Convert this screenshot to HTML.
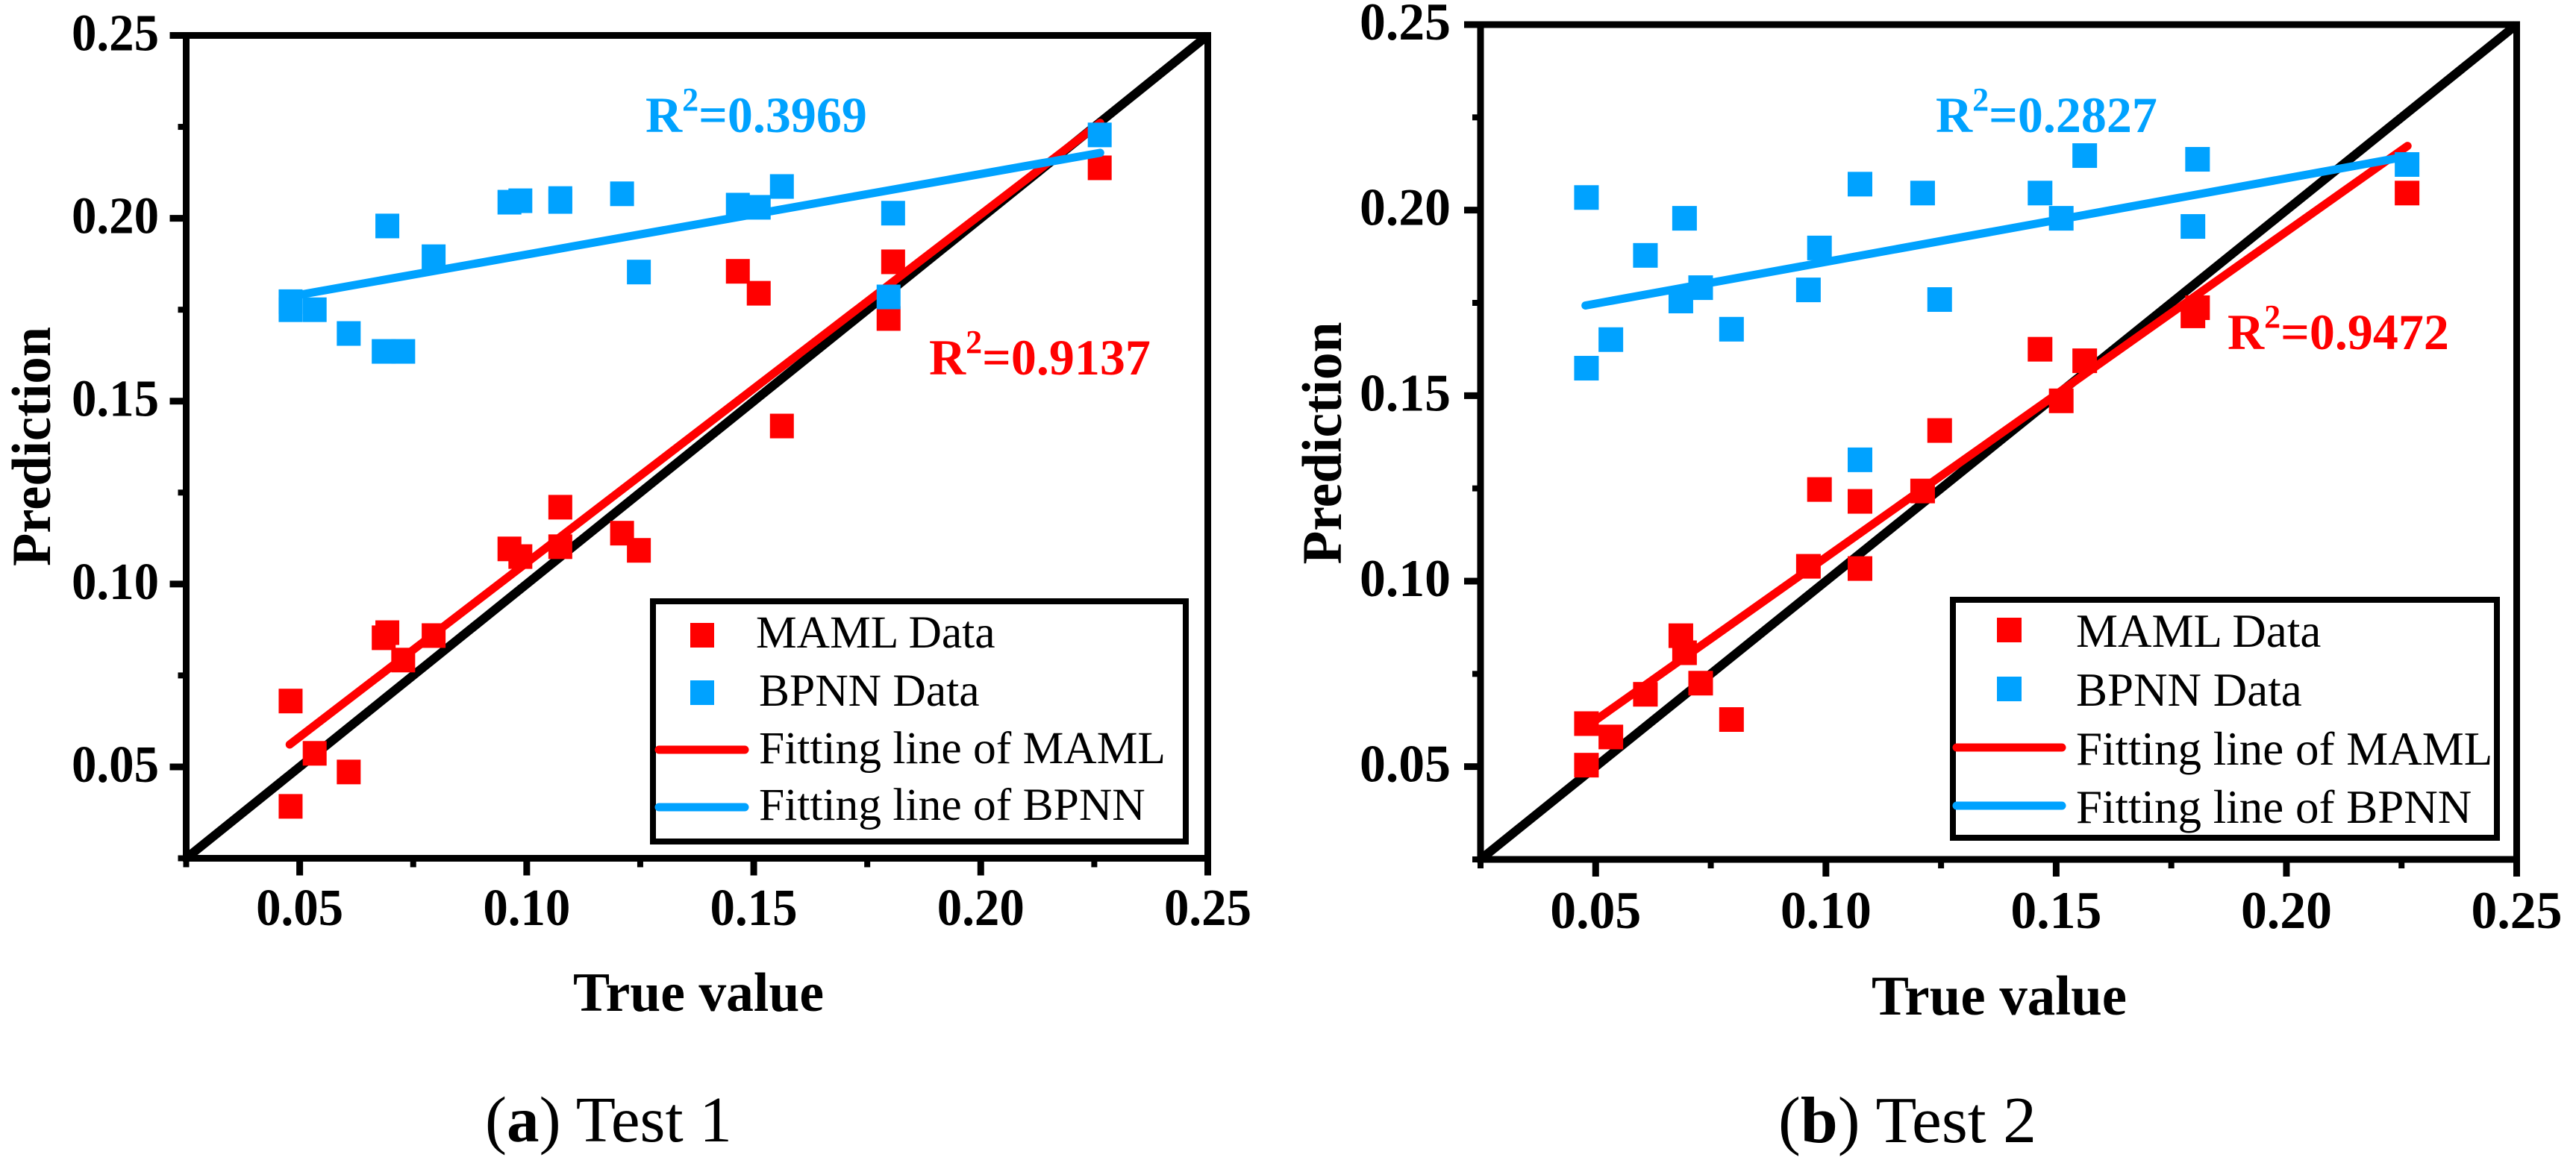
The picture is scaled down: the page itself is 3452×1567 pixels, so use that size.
<!DOCTYPE html>
<html lang="en">
<head>
<meta charset="utf-8">
<title>Prediction vs true value: Test 1 and Test 2</title>
<style>
  html, body { margin: 0; padding: 0; background: #fff; }
  svg { display: block; }
  text { font-family: "Liberation Serif", serif; fill: #000; }
  .tick { font-weight: bold; }
  .title { font-size: 74px; font-weight: bold; }
  .r2 { font-size: 68px; font-weight: bold; }
  .cap { font-size: 87px; }
</style>
</head>
<body>
<svg id="fig" width="3452" height="1567" viewBox="0 0 3452 1567" xmlns="http://www.w3.org/2000/svg">
  <rect width="3452" height="1567" fill="#fff"/>

  <g id="panelA">
    <g id="marksA"></g>
    <g id="axesA"></g>
    <rect x="249.5" y="47.5" width="1369" height="1103" fill="none" stroke="#000" stroke-width="9"/>
    <text class="title" x="768" y="1355" textLength="336" lengthAdjust="spacingAndGlyphs">True value</text>
    <text class="title" transform="translate(67,598.5) rotate(-90)" text-anchor="middle" textLength="321" lengthAdjust="spacingAndGlyphs">Prediction</text>
    <text class="r2" x="865" y="177" style="fill:#00A2FF">R<tspan font-size="44" dy="-29">2</tspan><tspan dy="29">=0.3969</tspan></text>
    <text class="r2" x="1245" y="502" style="fill:#FF0000">R<tspan font-size="44" dy="-29">2</tspan><tspan dy="29">=0.9137</tspan></text>
    <g>
      <rect x="875" y="806" width="714" height="322" fill="#fff" stroke="#000" stroke-width="8"/>
      <rect x="925" y="835" width="32" height="33" fill="#FF0000"/>
      <rect x="925" y="912" width="32" height="33" fill="#00A2FF"/>
      <line x1="883" x2="998" y1="1005" y2="1005" stroke="#FF0000" stroke-width="11" stroke-linecap="round"/>
      <line x1="883" x2="998" y1="1082" y2="1082" stroke="#00A2FF" stroke-width="11" stroke-linecap="round"/>
      <text x="1013" y="868" font-size="61.5">MAML Data</text>
      <text x="1017" y="946" font-size="61.5">BPNN Data</text>
      <text x="1017" y="1023" font-size="61.5">Fitting line of MAML</text>
      <text x="1017" y="1099" font-size="61.5">Fitting line of BPNN</text>
    </g>
    <text class="cap" x="650" y="1530" textLength="331" lengthAdjust="spacingAndGlyphs">(<tspan font-weight="bold">a</tspan>) Test 1</text>
  </g>

  <g id="panelB">
    <g id="marksB"></g>
    <g id="axesB"></g>
    <rect x="1984" y="33" width="1388.5" height="1119" fill="none" stroke="#000" stroke-width="9"/>
    <text class="title" x="2508" y="1360" textLength="342" lengthAdjust="spacingAndGlyphs" style="font-size:75px">True value</text>
    <text class="title" transform="translate(1797,594) rotate(-90)" text-anchor="middle" textLength="325" lengthAdjust="spacingAndGlyphs" style="font-size:75px">Prediction</text>
    <text class="r2" x="2594" y="177" style="fill:#00A2FF">R<tspan font-size="44" dy="-29">2</tspan><tspan dy="29">=0.2827</tspan></text>
    <text class="r2" x="2985" y="468" style="fill:#FF0000">R<tspan font-size="44" dy="-29">2</tspan><tspan dy="29">=0.9472</tspan></text>
    <g>
      <rect x="2617" y="804" width="729" height="319" fill="#fff" stroke="#000" stroke-width="8"/>
      <rect x="2676" y="828" width="33" height="33" fill="#FF0000"/>
      <rect x="2676" y="907" width="33" height="33" fill="#00A2FF"/>
      <line x1="2622" x2="2763" y1="1002" y2="1002" stroke="#FF0000" stroke-width="11" stroke-linecap="round"/>
      <line x1="2622" x2="2763" y1="1080" y2="1080" stroke="#00A2FF" stroke-width="11" stroke-linecap="round"/>
      <text x="2782" y="867" font-size="63">MAML Data</text>
      <text x="2782" y="946" font-size="63">BPNN Data</text>
      <text x="2782" y="1025" font-size="63">Fitting line of MAML</text>
      <text x="2782" y="1103" font-size="63">Fitting line of BPNN</text>
    </g>
    <text class="cap" x="2383" y="1531" textLength="346" lengthAdjust="spacingAndGlyphs" style="font-size:88px">(<tspan font-weight="bold">b</tspan>) Test 2</text>
  </g>
</svg>

<script>
// ---- data ----
const majorTicks = [0.05, 0.10, 0.15, 0.20, 0.25];
const tickLabels = ["0.05", "0.10", "0.15", "0.20", "0.25"];
const minorTicks = [0.025, 0.075, 0.125, 0.175, 0.225];
const identityLine = [0.025, 0.25];

const trueValues = [0.048, 0.048, 0.0533, 0.0608, 0.0685, 0.0693, 0.0728, 0.0795, 0.0962, 0.0986,
                    0.1074, 0.1074, 0.121, 0.1247, 0.1465, 0.1511, 0.1562, 0.1797, 0.1807, 0.2262];

const mamlTest1 = [0.068, 0.0392, 0.0537, 0.0486, 0.0853, 0.0867, 0.0792, 0.0859, 0.1096, 0.1075,
                   0.121, 0.1102, 0.1139, 0.1092, 0.1855, 0.1795, 0.1432, 0.1726, 0.1881, 0.2138];
const bpnnTest1 = [0.1772, 0.175, 0.175, 0.1685, 0.1636, 0.1979, 0.1636, 0.1895, 0.2044, 0.2048,
                   0.2054, 0.2046, 0.2067, 0.1853, 0.2036, 0.203, 0.2087, 0.1785, 0.2014, 0.2228];
const mamlTest2 = [0.0616, 0.0504, 0.058, 0.0695, 0.0853, 0.0807, 0.0725, 0.0627, 0.104, 0.1247,
                   0.1215, 0.1034, 0.1243, 0.1406, 0.1625, 0.1486, 0.1594, 0.1715, 0.1737, 0.2046];
const bpnnTest2 = [0.2034, 0.1574, 0.1651, 0.1878, 0.1755, 0.1978, 0.1791, 0.1679, 0.1785, 0.1898,
                   0.1327, 0.207, 0.2046, 0.1759, 0.2046, 0.1978, 0.2147, 0.1956, 0.2137, 0.2123];

const fitXValues = [0.0478, 0.2263];
const mamlFitTest1 = [0.0561, 0.2261];
const bpnnFitTest1 = [0.1786, 0.2179];
const mamlFitTest2 = [0.0606, 0.2173];
const bpnnFitTest2 = [0.1743, 0.2145];

// ---- drawing ----
const NS = 'http://www.w3.org/2000/svg';
const RED = '#FF0000';
const BLUE = '#00A2FF';
const DOMAIN_MIN = 0.025;
const DOMAIN_MAX = 0.25;

function make(tag, attrs, parent) {
  const el = document.createElementNS(NS, tag);
  for (const k in attrs) el.setAttribute(k, attrs[k]);
  parent.appendChild(el);
  return el;
}

function drawPanel(cfg) {
  const sx = v => cfg.left + (v - DOMAIN_MIN) / (DOMAIN_MAX - DOMAIN_MIN) * (cfg.right - cfg.left);
  const sy = v => cfg.bottom - (v - DOMAIN_MIN) / (DOMAIN_MAX - DOMAIN_MIN) * (cfg.bottom - cfg.top);
  const marks = document.getElementById(cfg.marksId);
  const axes = document.getElementById(cfg.axesId);
  const suffix = cfg.suffix;

  const diag = make('line', {x1: sx(identityLine[0]), y1: sy(identityLine[0]), x2: sx(identityLine[1]), y2: sy(identityLine[1]), stroke: '#000', 'stroke-width': 12}, marks);
  
  

  const fitM = make('line', {x1: sx(fitXValues[0]), y1: sy(cfg.mamlFit[0]), x2: sx(fitXValues[1]), y2: sy(cfg.mamlFit[1]), stroke: RED, 'stroke-width': 11, 'stroke-linecap': 'round'}, marks);
  
  

  const drawPoints = (values, color, label) => {
    values.forEach((v, i) => {
      const p = make('rect', {x: sx(trueValues[i]) - cfg.markerW / 2, y: sy(v) - 16.5, width: cfg.markerW, height: 33, fill: color}, marks);
      
      
    });
  };
  drawPoints(cfg.maml, RED, 'maml');
  drawPoints(cfg.bpnn, BLUE, 'bpnn');

  const fitB = make('line', {x1: sx(fitXValues[0]), y1: sy(cfg.bpnnFit[0]), x2: sx(fitXValues[1]), y2: sy(cfg.bpnnFit[1]), stroke: BLUE, 'stroke-width': 11, 'stroke-linecap': 'round'}, marks);
  
  

  majorTicks.forEach((v, i) => {
    const tx = make('line', {x1: sx(v), x2: sx(v), y1: cfg.bottom, y2: cfg.bottom + 23, stroke: '#000', 'stroke-width': 9}, axes);
    
    
    const ty = make('line', {x1: cfg.left - 22, x2: cfg.left, y1: sy(v), y2: sy(v), stroke: '#000', 'stroke-width': 9}, axes);
    
    
    const lx = make('text', {class: 'tick', x: sx(v), y: cfg.xLabelY, 'text-anchor': 'middle', 'font-size': cfg.tickFont, textLength: cfg.tickWidth, lengthAdjust: 'spacingAndGlyphs'}, axes);
    lx.textContent = tickLabels[i];
    
    
    const ly = make('text', {class: 'tick', x: cfg.yLabelX, y: sy(v) + 20, 'text-anchor': 'end', 'font-size': cfg.tickFont, textLength: cfg.tickWidth, lengthAdjust: 'spacingAndGlyphs'}, axes);
    ly.textContent = tickLabels[i];
    
    
  });
  minorTicks.forEach(v => {
    const tx = make('line', {x1: sx(v), x2: sx(v), y1: cfg.bottom, y2: cfg.bottom + 12, stroke: '#000', 'stroke-width': 8}, axes);
    
    
    const ty = make('line', {x1: cfg.left - 11, x2: cfg.left, y1: sy(v), y2: sy(v), stroke: '#000', 'stroke-width': 8}, axes);
    
    
  });
}

drawPanel({marksId: 'marksA', axesId: 'axesA', suffix: 'test-1',
  left: 249.5, right: 1618.5, top: 47.5, bottom: 1150.5, xLabelY: 1240, yLabelX: 213,
  tickFont: 70, tickWidth: 117, markerW: 32,
  maml: mamlTest1, bpnn: bpnnTest1, mamlFit: mamlFitTest1, bpnnFit: bpnnFitTest1});
drawPanel({marksId: 'marksB', axesId: 'axesB', suffix: 'test-2',
  left: 1984, right: 3372.5, top: 33, bottom: 1152, xLabelY: 1244, yLabelX: 1944,
  tickFont: 71, tickWidth: 122, markerW: 33,
  maml: mamlTest2, bpnn: bpnnTest2, mamlFit: mamlFitTest2, bpnnFit: bpnnFitTest2});
</script>
</body>
</html>
